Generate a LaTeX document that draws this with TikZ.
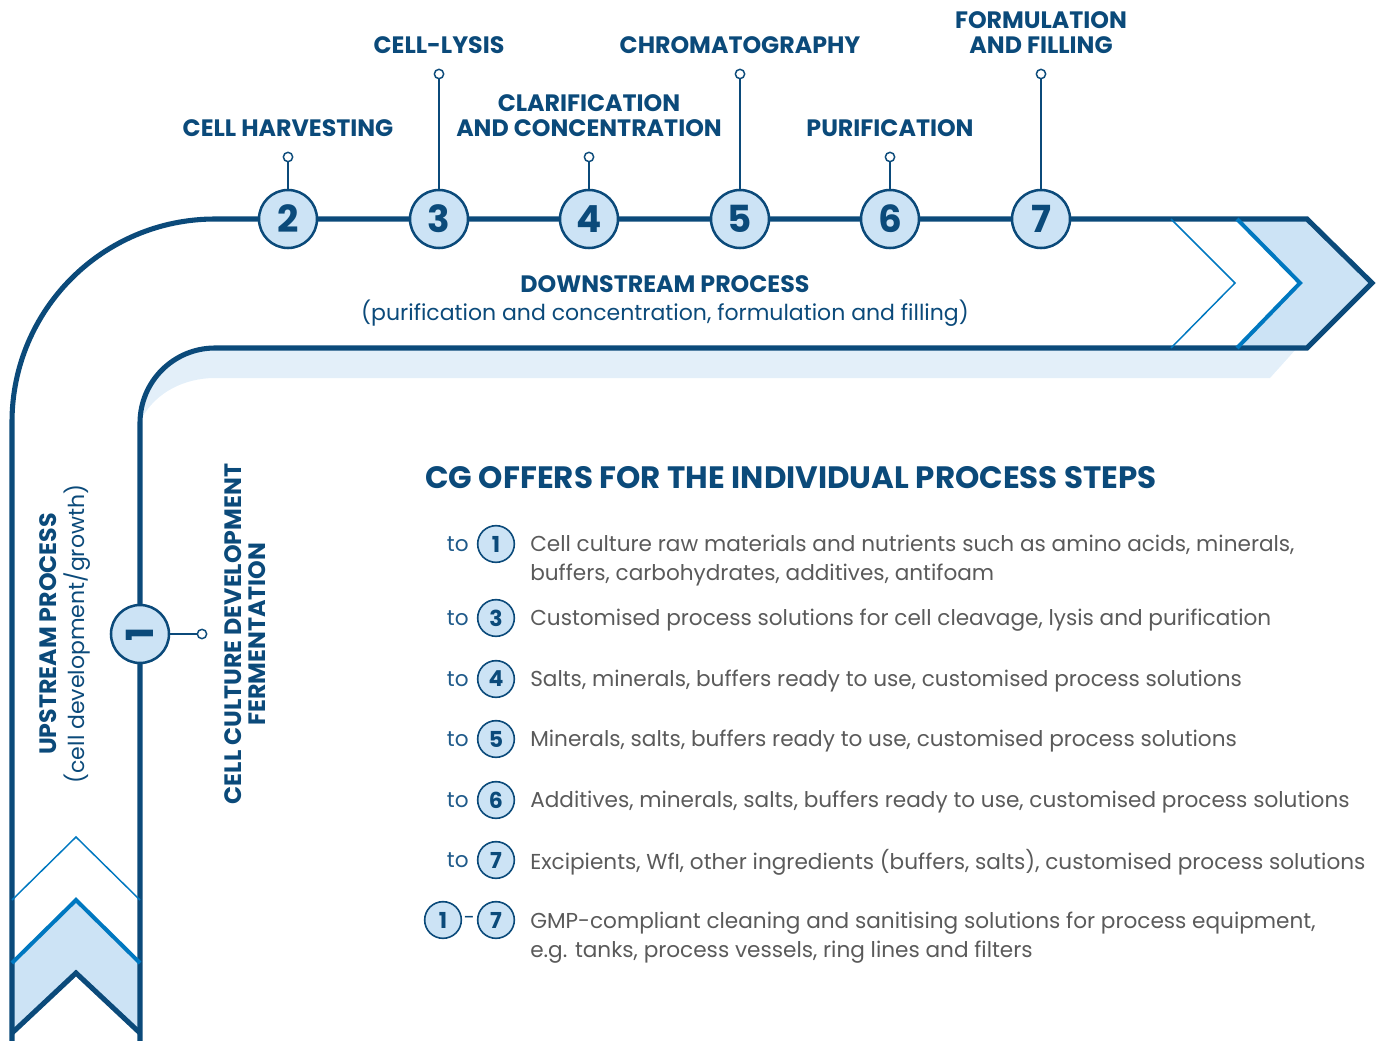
\documentclass[tikz,border=0pt]{standalone}
\usepackage{fontspec}
\setmainfont{Poppins}
\usetikzlibrary{positioning,calc}
\definecolor{navy}{HTML}{0B4A7A}
\definecolor{midblue}{HTML}{0078C0}
\definecolor{paleblue}{HTML}{CCE3F5}
\definecolor{shadowblue}{HTML}{E3EFF9}
\definecolor{tocol}{HTML}{1F5A8A}
\definecolor{bodygray}{HTML}{5A5A5A}
\tikzset{
  flowmap/.style={
    x=0.75pt, y=-0.75pt,
    line join=miter,
    node distance=11pt,
  },
  track/.style={draw=navy, line width=3.8pt},
  chev/.style={draw=midblue, line width=#1},
  stepcirc/.style={
    circle, draw=navy, fill=paleblue, line width=1.9pt,
    minimum size=43.5pt, inner sep=0pt,
    text=navy, font=\fontsize{28}{28}\selectfont\bfseries,
  },
  pin/.style={circle, draw=navy, fill=white, line width=1.1pt,
    minimum size=7pt, inner sep=0pt},
  stem/.style={draw=navy, line width=1pt},
  steplabel/.style={text=navy, align=center, inner sep=0pt,
    font=\fontsize{17.8}{18.5}\selectfont\bfseries},
  sublabel/.style={text=navy, align=center, inner sep=0pt,
    font=\fontsize{16.5}{18}\selectfont},
  listnum/.style={
    circle, draw=navy, fill=paleblue, line width=1.2pt,
    minimum size=27.5pt, inner sep=0pt,
    text=navy, font=\fontsize{16.5}{16.5}\selectfont\bfseries,
  },
  listto/.style={text=tocol, inner sep=0pt, font=\fontsize{16.2}{18}\selectfont},
  listtext/.style={text=bodygray, anchor=west, align=left, inner sep=0pt,
    font=\fontsize{16.2}{21.75}\selectfont},
}

\begin{document}
\begin{tikzpicture}[flowmap]
  \useasboundingbox (0,0) rectangle (1381,1041);

  % pale shadow under the downstream band
  \fill[shadowblue] (140,423) arc(180:270:75) -- (1297,348) -- (1270,378)
    -- (215,378) .. controls (185,378) and (156,392) .. (142,418) -- cycle;

  % chevron fills
  \fill[paleblue] (1237,219) -- (1307,219) -- (1372,283) -- (1307,348)
    -- (1237,348) -- (1300,283) -- cycle;
  \fill[paleblue] (12,963) -- (76,900) -- (140,963) -- (140,1033)
    -- (76,973) -- (12,1033) -- cycle;

  % the bent band
  \draw[track] (12,1045) -- (12,422) arc(180:270:203) -- (1307,219)
    -- (1372,283) -- (1307,348) -- (215,348) arc(270:180:75) -- (140,1045);

  \draw[chev=1.1pt] (1171,219) -- (1235,283) -- (1171,348);
  \draw[chev=3pt] (1237,219) -- (1300,283) -- (1237,348);
  \draw[chev=1.1pt] (12,900) -- (76,837) -- (140,900);
  \draw[chev=3pt] (12,963) -- (76,900) -- (140,963);
  \draw[track] (12,1033) -- (76,973) -- (140,1033);

  % steps 2-7
  \foreach \n/\x/\h/\txt in {
      2/288/157/{CELL HARVESTING},
      3/439/74/{CELL-LYSIS},
      4/589/157/{CLARIFICATION\\AND CONCENTRATION},
      5/740/74/{CHROMATOGRAPHY},
      6/890/157/{PURIFICATION},
      7/1041/74/{FORMULATION\\AND FILLING}} {
    \node[stepcirc] (step\n) at (\x,219) {\n};
    \node[pin] (pin\n) at (\x,\h) {};
    \draw[stem] (pin\n) -- (step\n);
    \node[steplabel, above=of pin\n] (lab\n) {\txt};
  }

  % step 1
  \node[stepcirc, rotate=90] (step1) at (140,634) {1};
  \node[pin] (pin1) at (202,634) {};
  \draw[stem] (step1) -- (pin1);
  \node[steplabel, rotate=90] (lab1) at (245,634)
    {CELL CULTURE DEVELOPMENT\\FERMENTATION};

  \node[steplabel] (down) at (665,284) {DOWNSTREAM PROCESS};
  \node[sublabel] (downsub) at (665,313)
    {(purification and concentration, formulation and filling)};
  \node[steplabel, rotate=90] (up) at (48,634) {UPSTREAM PROCESS};
  \node[sublabel, rotate=90] (upsub) at (77,634) {(cell development/growth)};

  % offers list
  \node[text=navy, anchor=west, inner sep=0pt,
    font=\fontsize{23.2}{26}\selectfont\bfseries] (offers) at (425,478)
    {CG OFFERS FOR THE INDIVIDUAL PROCESS STEPS};

  \foreach \n/\y/\ty/\txt in {
      1/544/561/{Cell culture raw materials and nutrients such as amino acids, minerals,\\buffers, carbohydrates, additives, antifoam},
      3/618/620.5/{Customised process solutions for cell cleavage, lysis and purification},
      4/679/681.5/{Salts, minerals, buffers ready to use, customised process solutions},
      5/739/741.5/{Minerals, salts, buffers ready to use, customised process solutions},
      6/800/802.5/{Additives, minerals, salts, buffers ready to use, customised process solutions},
      7/860/862.5/{Excipients, WfI, other ingredients (buffers, salts), customised process solutions}} {
    \node[listnum] (num\n) at (496,\y) {\n};
    \node[listto, left=6pt of num\n] (to\n) {to};
    \node[listtext] (item\n) at (530,\ty) {\txt};
  }

  \node[listnum] (numA) at (443,920) {1};
  \node[listnum] (numB) at (496,920) {7};
  \node[text=navy, inner sep=0pt, font=\fontsize{15}{15}\selectfont]
    (dash) at ($(numA.east)!0.5!(numB.west)$) {-};
  \node[listtext] (itemA) at (530,937.5)
    {GMP-compliant cleaning and sanitising solutions for process equipment,\\e.g. tanks, process vessels, ring lines and filters};
\end{tikzpicture}
\end{document}
